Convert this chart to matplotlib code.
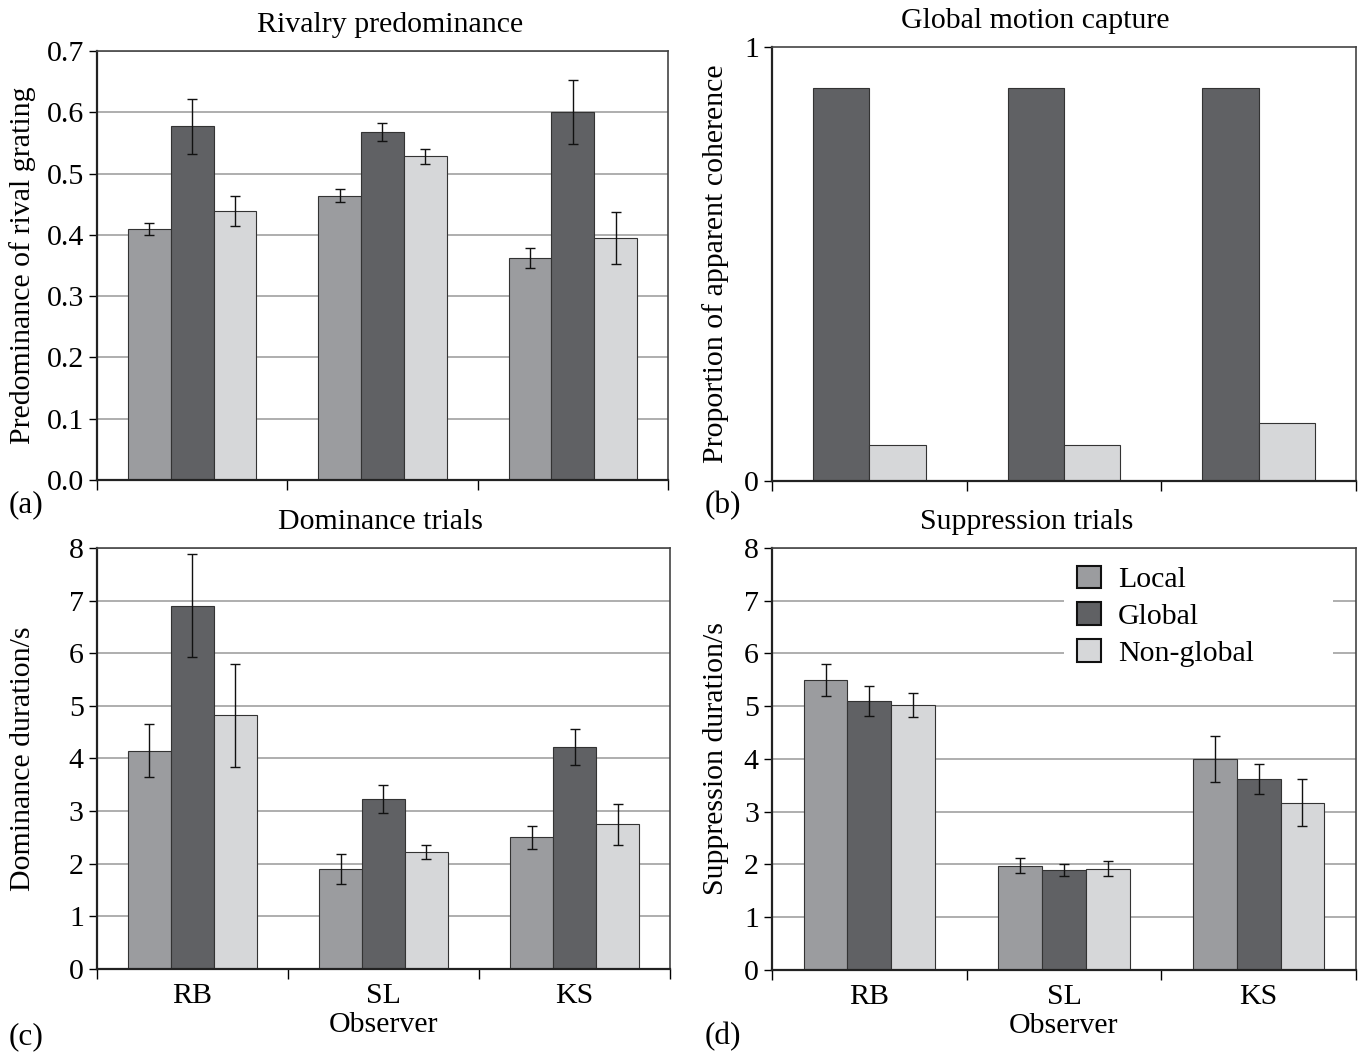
import numpy as np
import matplotlib
matplotlib.use("Agg")
import matplotlib.pyplot as plt

plt.rcParams["font.family"] = ["Liberation Serif", "DejaVu Serif"]

observers = ["RB", "SL", "KS"]
conditions = ["Local", "Global", "Non-global"]
colors = ["#9b9c9f", "#606164", "#d6d7d9"]

# (a) rivalry predominance
pred_mean = {"Local": [0.41, 0.464, 0.362],
             "Global": [0.577, 0.568, 0.601],
             "Non-global": [0.439, 0.528, 0.395]}
pred_err = {"Local": [0.010, 0.010, 0.016],
            "Global": [0.045, 0.015, 0.052],
            "Non-global": [0.025, 0.012, 0.043]}

# (b) global motion capture (no local condition)
coh_global = [0.906, 0.906, 0.906]
coh_nonglobal = [0.083, 0.083, 0.134]

# (c) dominance trials
dom_mean = {"Local": [4.15, 1.9, 2.5],
            "Global": [6.9, 3.23, 4.22],
            "Non-global": [4.82, 2.22, 2.75]}
dom_err = {"Local": [0.5, 0.28, 0.22],
           "Global": [0.98, 0.26, 0.34],
           "Non-global": [0.98, 0.13, 0.39]}

# (d) suppression trials
sup_mean = {"Local": [5.5, 1.98, 4.0],
            "Global": [5.1, 1.9, 3.62],
            "Non-global": [5.03, 1.92, 3.17]}
sup_err = {"Local": [0.3, 0.15, 0.43],
           "Global": [0.28, 0.11, 0.29],
           "Non-global": [0.23, 0.14, 0.45]}

FS = 21.5
fig = plt.figure(figsize=(13.58, 10.55), dpi=100)
ax_a = fig.add_axes([0.0714, 0.545, 0.4205, 0.4067])
ax_b = fig.add_axes([0.5685, 0.544, 0.4300, 0.4115])
ax_c = fig.add_axes([0.0714, 0.0815, 0.4220, 0.3991])
ax_d = fig.add_axes([0.5685, 0.0806, 0.4300, 0.4000])

x = np.arange(len(observers))
w = 0.225


def style_axes(ax, grid=True):
    ax.set_xlim(-0.5, 2.5)
    ax.set_xticks([-0.5, 0.5, 1.5, 2.5])
    ax.set_xticklabels([])
    ax.tick_params(axis="x", which="major", length=7, direction="out", width=1)
    ax.tick_params(axis="y", length=6, direction="out", width=1, labelsize=FS)
    for s in ["left", "bottom"]:
        ax.spines[s].set_linewidth(1.6)
        ax.spines[s].set_color("#222222")
    for s in ["top", "right"]:
        ax.spines[s].set_linewidth(1.2)
        ax.spines[s].set_color("#444444")
    if grid:
        ax.yaxis.grid(True, color="#a8a8a8", linewidth=1.3)
        ax.set_axisbelow(True)


def grouped(ax, means, errs):
    for i, c in enumerate(conditions):
        ax.bar(x + (i - 1) * w, means[c], w, color=colors[i], edgecolor="#333333",
               linewidth=0.8, yerr=errs[c], error_kw=dict(ecolor="#111111", elinewidth=1.0,
                                                         capsize=3.5, capthick=1.0),
               label=c, zorder=2)


# (a)
grouped(ax_a, pred_mean, pred_err)
style_axes(ax_a)
ax_a.set_ylim(0, 0.7)
ax_a.set_yticks(np.arange(0, 0.71, 0.1))
ax_a.set_yticklabels(["%.1f" % v for v in np.arange(0, 0.71, 0.1)])
ax_a.set_ylabel("Predominance of rival grating", fontsize=FS)
ax_a.yaxis.set_label_coords(-0.106, 0.5)
ax_a.set_title("Rivalry predominance", fontsize=FS, pad=14, x=0.513)

# (b)
wb = 0.29
ax_b.bar(x - wb / 2, coh_global, wb, color=colors[1], edgecolor="#333333", linewidth=0.8, zorder=2)
ax_b.bar(x + wb / 2, coh_nonglobal, wb, color=colors[2], edgecolor="#333333", linewidth=0.8, zorder=2)
style_axes(ax_b, grid=False)
ax_b.set_ylim(0, 1)
ax_b.set_yticks([0, 1])
ax_b.set_ylabel("Proportion of apparent coherence", fontsize=FS)
ax_b.yaxis.set_label_coords(-0.073, 0.5)
ax_b.set_title("Global motion capture", fontsize=FS, pad=14, x=0.45)

# (c)
grouped(ax_c, dom_mean, dom_err)
style_axes(ax_c)
ax_c.set_ylim(0, 8)
ax_c.set_yticks(range(9))
ax_c.set_ylabel("Dominance duration/s", fontsize=FS)
ax_c.yaxis.set_label_coords(-0.106, 0.5)
ax_c.set_title("Dominance trials", fontsize=FS, pad=14, x=0.494)

# (d)
grouped(ax_d, sup_mean, sup_err)
style_axes(ax_d)
ax_d.set_ylim(0, 8)
ax_d.set_yticks(range(9))
ax_d.set_ylabel("Suppression duration/s", fontsize=FS)
ax_d.yaxis.set_label_coords(-0.073, 0.5)
ax_d.set_title("Suppression trials", fontsize=FS, pad=14, x=0.436)
leg = ax_d.legend(loc="upper left", bbox_to_anchor=(0.50, 0.99, 0.46, 0.0), mode="expand",
                  fontsize=FS, frameon=True, facecolor="white", edgecolor="none", framealpha=1,
                  handlelength=0.8, handleheight=0.8, handletextpad=0.55,
                  labelspacing=0.3, borderaxespad=0, borderpad=0.45, fancybox=False)
for h in leg.legend_handles:
    h.set_edgecolor("#111111")
    h.set_linewidth(1.5)

for ax in (ax_c, ax_d):
    ax.set_xticks(x, minor=True)
    ax.set_xticklabels(observers, minor=True, fontsize=FS)
    ax.tick_params(axis="x", which="minor", length=0, pad=10)
    ax.set_xlabel("Observer", fontsize=FS, labelpad=2)

fig.text(0.006, 0.535, "(a)", fontsize=FS + 1, va="top")
fig.text(0.519, 0.535, "(b)", fontsize=FS + 1, va="top")
fig.text(0.006, 0.004, "(c)", fontsize=FS + 1, va="bottom")
fig.text(0.519, 0.004, "(d)", fontsize=FS + 1, va="bottom")

fig.savefig("out.png", dpi=100)
